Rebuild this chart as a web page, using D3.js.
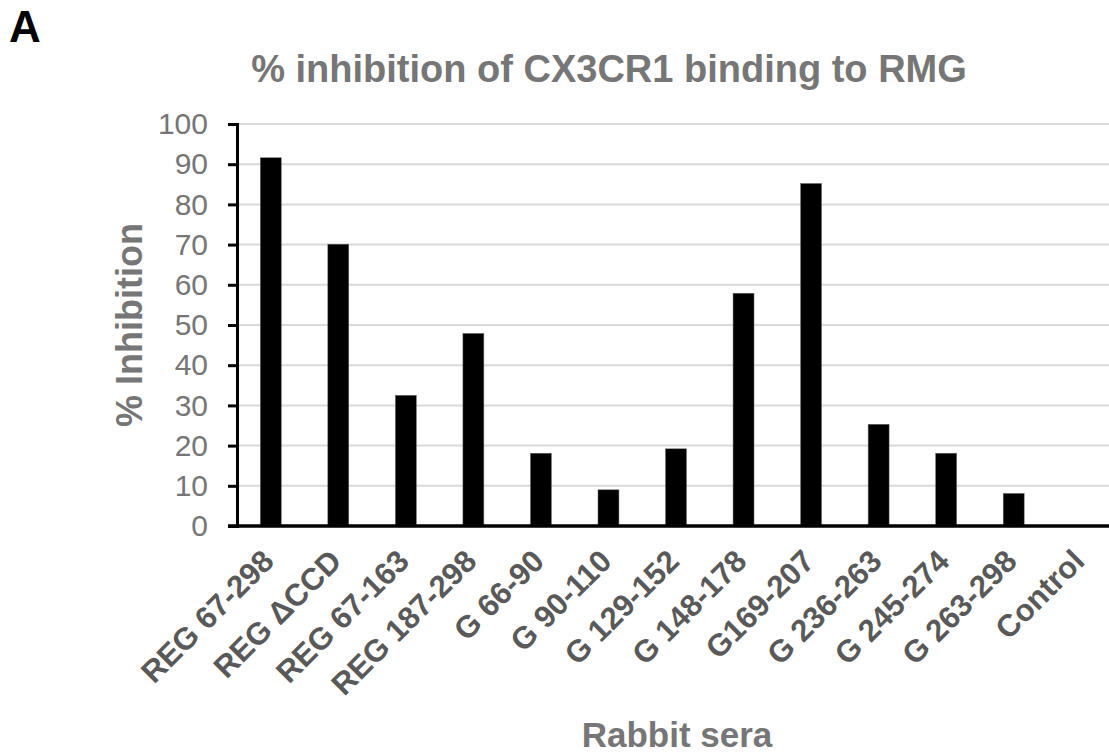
<!DOCTYPE html>
<html><head><meta charset="utf-8">
<script src="https://cdn.jsdelivr.net/npm/d3@7"></script>
<style>body{margin:0;background:#fff}svg{display:block}</style>
</head><body>
<script>
const categories = ["REG 67-298","REG ΔCCD","REG 67-163","REG 187-298","G 66-90","G 90-110","G 129-152","G 148-178","G169-207","G 236-263","G 245-274","G 263-298","Control"];
const values = [91.6,70.1,32.5,47.9,18.1,9.0,19.2,57.9,85.2,25.3,18.1,8.1,0];
const yTicks = [0,10,20,30,40,50,60,70,80,90,100];
const title = "% inhibition of CX3CR1 binding to RMG";
const yTitle = "% Inhibition";
const xTitle = "Rabbit sera";
const panel = "A";

const W = 1109, H = 756;
const m = {left:237, right:-6, top:124, bottom:230};
const svg = d3.select("body").append("svg").attr("width",W).attr("height",H);
const font = "'Liberation Sans', Arial, sans-serif";

const x = d3.scaleBand().domain(categories).range([m.left, W - m.right]).paddingInner(0.69).paddingOuter(0.345);
const y = d3.scaleLinear().domain([0,100]).range([H - m.bottom, m.top]);

// gridlines
svg.append("g").selectAll("line").data(yTicks.filter(d=>d>0)).join("line")
  .attr("x1", m.left).attr("x2", W).attr("y1", d=>y(d)).attr("y2", d=>y(d))
  .attr("stroke","#d9d9d9").attr("stroke-width",2);

// bars
svg.append("g").selectAll("rect").data(values).join("rect")
  .attr("x",(d,i)=>x(categories[i])).attr("width",x.bandwidth())
  .attr("y",d=>y(d)).attr("height",d=>y(0)-y(d))
  .attr("fill","#000").attr("stroke","#666").attr("stroke-width",0.5);

// y axis
const yAxis = svg.append("g").attr("transform",`translate(${m.left},0)`)
  .call(d3.axisLeft(y).tickValues(yTicks).tickSize(9).tickPadding(20));
yAxis.select(".domain").attr("stroke","#000").attr("stroke-width",3);
yAxis.selectAll(".tick line").attr("stroke","#000").attr("stroke-width",3);
yAxis.selectAll("text").attr("font-family",font).attr("font-size",30).attr("fill","#767676");

// x axis line
svg.append("line").attr("x1",m.left-9).attr("x2",W).attr("y1",y(0)).attr("y2",y(0))
  .attr("stroke","#000").attr("stroke-width",3.5);

// x labels
svg.append("g").selectAll("text").data(categories).join("text")
  .attr("transform",d=>`translate(${x(d)+x.bandwidth()/2+5},${y(0)+37}) rotate(-45)`)
  .attr("text-anchor","end").attr("font-family",font).attr("font-weight","bold")
  .attr("font-size",31).attr("fill","#595959").text(d=>d);

// titles
svg.append("text").attr("x",609).attr("y",82).attr("text-anchor","middle")
  .attr("font-family",font).attr("font-weight","bold").attr("font-size",38).attr("fill","#767676").text(title);
svg.append("text").attr("transform",`translate(142,${(y(0)+y(100))/2}) rotate(-90)`).attr("text-anchor","middle")
  .attr("font-family",font).attr("font-weight","bold").attr("font-size",36).attr("fill","#767676").text(yTitle);
svg.append("text").attr("x",677).attr("y",747).attr("text-anchor","middle")
  .attr("font-family",font).attr("font-weight","bold").attr("font-size",35).attr("fill","#767676").text(xTitle);
svg.append("text").attr("x",9).attr("y",42)
  .attr("font-family",font).attr("font-weight","bold").attr("font-size",44).attr("fill","#000").text(panel);
</script>
</body></html>
